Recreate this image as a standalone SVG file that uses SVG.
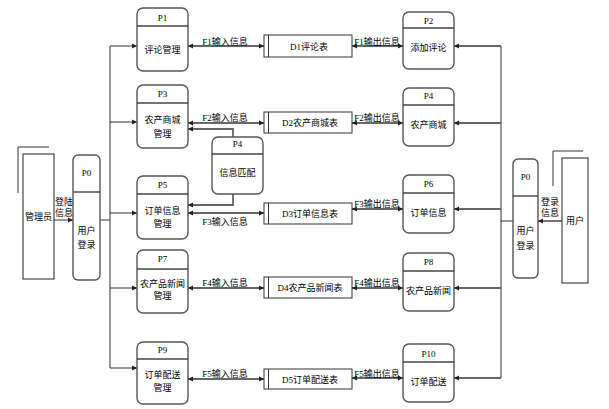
<svg xmlns="http://www.w3.org/2000/svg" width="609" height="409" viewBox="0 0 609 409">
<style>
.proc{fill:#fff;stroke:#555;stroke-width:1.4}
.hdr{stroke:#444;stroke-width:1.4}
.store{fill:#fff;stroke:#333;stroke-width:1}
.ent{fill:#fff;stroke:#222;stroke-width:1}
.t{font-family:"Liberation Serif","Noto Sans CJK SC",serif;font-size:9px;fill:#000;text-anchor:middle}
.flow{stroke:#666;stroke-width:1.8;fill:none}
.ln{stroke:#333;stroke-width:1;fill:none}
</style>
<defs>
<marker id="ae" markerWidth="6" markerHeight="6" refX="5" refY="3" orient="auto" markerUnits="userSpaceOnUse"><path d="M0,0.5 L5,3 L0,5.5 Z" fill="#222"/></marker>
<marker id="as" markerWidth="6" markerHeight="6" refX="0" refY="3" orient="auto" markerUnits="userSpaceOnUse"><path d="M5,0.5 L0,3 L5,5.5 Z" fill="#222"/></marker>
</defs>
<rect width="609" height="409" fill="#fff"/>

<g id="connectors">
<!-- left bus -->
<path class="ln" d="M110 46 V368"/>
<path class="ln" d="M100 220 H110"/>
<path class="ln" d="M110 46 H137" marker-end="url(#ae)"/>
<path class="ln" d="M110 122 H137" marker-end="url(#ae)"/>
<path class="ln" d="M110 213 H137" marker-end="url(#ae)"/>
<path class="ln" d="M110 288 H137" marker-end="url(#ae)"/>
<path class="ln" d="M110 368 H137" marker-end="url(#ae)"/>
<!-- right bus -->
<path class="ln" d="M501 46 V378"/>
<path class="ln" d="M513 221 H501"/>
<path class="flow" d="M501 46 H454" marker-end="url(#ae)"/>
<path class="flow" d="M501 123 H454" marker-end="url(#ae)"/>
<path class="flow" d="M501 209 H454" marker-end="url(#ae)"/>
<path class="flow" d="M501 288 H454" marker-end="url(#ae)"/>
<path class="flow" d="M501 378 H454" marker-end="url(#ae)"/>
<!-- entity arrows -->
<path class="ln" d="M54 220 H73" marker-end="url(#ae)"/>
<path class="flow" d="M562 221 H538" marker-end="url(#ae)"/>
<!-- P4 match -->
<path class="flow" d="M233 137 V129 H188" marker-end="url(#ae)"/>
<path class="flow" d="M233 194 V205 H188" marker-end="url(#ae)"/>
<!-- data flows -->
<path class="flow" d="M188 46 H264" marker-start="url(#as)" marker-end="url(#ae)"/>
<path class="flow" d="M352 46 H403" marker-start="url(#as)" marker-end="url(#ae)"/>
<path class="flow" d="M188 123 H264" marker-start="url(#as)" marker-end="url(#ae)"/>
<path class="flow" d="M352 123 H403" marker-start="url(#as)" marker-end="url(#ae)"/>
<path class="flow" d="M188 213 H264" marker-start="url(#as)" marker-end="url(#ae)"/>
<path class="flow" d="M352 209 H403" marker-start="url(#as)" marker-end="url(#ae)"/>
<path class="flow" d="M188 288 H264" marker-start="url(#as)" marker-end="url(#ae)"/>
<path class="flow" d="M352 288 H403" marker-start="url(#as)" marker-end="url(#ae)"/>
<path class="flow" d="M188 379 H264" marker-start="url(#as)" marker-end="url(#ae)"/>
<path class="flow" d="M352 378 H403" marker-start="url(#as)" marker-end="url(#ae)"/>
<!-- labels -->
<text class="t" x="225" y="45">F1输入信息</text>
<text class="t" x="377" y="45">F1输出信息</text>
<text class="t" x="225" y="121">F2输入信息</text>
<text class="t" x="377" y="121">F2输出信息</text>
<text class="t" x="225" y="225">F3输入信息</text>
<text class="t" x="377" y="207">F3输出信息</text>
<text class="t" x="225" y="286">F4输入信息</text>
<text class="t" x="377" y="286">F4输出信息</text>
<text class="t" x="225" y="377">F5输入信息</text>
<text class="t" x="377" y="377">F5输出信息</text>
<text class="t" x="64" y="205">登陆</text>
<text class="t" x="64" y="216">信息</text>
<text class="t" x="550" y="205">登录</text>
<text class="t" x="550" y="216">信息</text>
</g>

<g id="admin">
<rect class="ent" x="23" y="154" width="31" height="125"/>
<path class="ln" d="M18 193 V147 H49"/>
<text class="t" x="38.5" y="220">管理员</text>
</g>
<g id="user">
<rect class="ent" x="562" y="158" width="26" height="125"/>
<path class="ln" d="M553 186 V151 H583"/>
<text class="t" x="575" y="224">用户</text>
</g>

<g id="P0L">
<rect class="proc" x="73" y="155" width="27" height="125" rx="5"/>
<line class="hdr" x1="73" y1="192" x2="100" y2="192"/>
<text class="t" x="86.5" y="176">P0</text>
<text class="t" x="86.5" y="234">用户</text>
<text class="t" x="86.5" y="248">登录</text>
</g>
<g id="P0R">
<rect class="proc" x="513" y="159" width="25" height="119" rx="5"/>
<line class="hdr" x1="513" y1="196" x2="538" y2="196"/>
<text class="t" x="525.5" y="180">P0</text>
<text class="t" x="525.5" y="234">用户</text>
<text class="t" x="525.5" y="249">登录</text>
</g>

<g id="P1">
<rect class="proc" x="137" y="8" width="51" height="63" rx="6"/>
<line class="hdr" x1="137" y1="26" x2="188" y2="26"/>
<text class="t" x="162.5" y="21">P1</text>
<text class="t" x="162.5" y="53">评论管理</text>
</g>
<g id="P2">
<rect class="proc" x="403" y="12" width="51" height="57" rx="6"/>
<line class="hdr" x1="403" y1="28" x2="454" y2="28"/>
<text class="t" x="428.5" y="24">P2</text>
<text class="t" x="428.5" y="51">添加评论</text>
</g>
<g id="P3">
<rect class="proc" x="137" y="85" width="51" height="63" rx="6"/>
<line class="hdr" x1="137" y1="103" x2="188" y2="103"/>
<text class="t" x="162.5" y="97">P3</text>
<text class="t" x="162.5" y="123">农产商城</text>
<text class="t" x="162.5" y="137">管理</text>
</g>
<g id="P4match">
<rect class="proc" x="212" y="137" width="51" height="57" rx="6"/>
<line class="hdr" x1="212" y1="154" x2="263" y2="154"/>
<text class="t" x="237.5" y="147">P4</text>
<text class="t" x="237.5" y="176">信息匹配</text>
</g>
<g id="P4">
<rect class="proc" x="403" y="88" width="51" height="58" rx="6"/>
<line class="hdr" x1="403" y1="105" x2="454" y2="105"/>
<text class="t" x="428.5" y="99">P4</text>
<text class="t" x="428.5" y="128">农产商城</text>
</g>
<g id="P5">
<rect class="proc" x="137" y="176" width="51" height="63" rx="6"/>
<line class="hdr" x1="137" y1="194" x2="188" y2="194"/>
<text class="t" x="162.5" y="188">P5</text>
<text class="t" x="162.5" y="214">订单信息</text>
<text class="t" x="162.5" y="227">管理</text>
</g>
<g id="P6">
<rect class="proc" x="403" y="175" width="51" height="58" rx="6"/>
<line class="hdr" x1="403" y1="193" x2="454" y2="193"/>
<text class="t" x="428.5" y="187">P6</text>
<text class="t" x="428.5" y="216">订单信息</text>
</g>
<g id="P7">
<rect class="proc" x="137" y="250" width="51" height="63" rx="6"/>
<line class="hdr" x1="137" y1="269" x2="188" y2="269"/>
<text class="t" x="162.5" y="262">P7</text>
<text class="t" x="162.5" y="287">农产品新闻</text>
<text class="t" x="162.5" y="299">管理</text>
</g>
<g id="P8">
<rect class="proc" x="403" y="253" width="51" height="58" rx="6"/>
<line class="hdr" x1="403" y1="271" x2="454" y2="271"/>
<text class="t" x="428.5" y="265">P8</text>
<text class="t" x="428.5" y="294">农产品新闻</text>
</g>
<g id="P9">
<rect class="proc" x="137" y="342" width="51" height="62" rx="6"/>
<line class="hdr" x1="137" y1="359" x2="188" y2="359"/>
<text class="t" x="162.5" y="353">P9</text>
<text class="t" x="162.5" y="378">订单配送</text>
<text class="t" x="162.5" y="391">管理</text>
</g>
<g id="P10">
<rect class="proc" x="403" y="344" width="51" height="58" rx="6"/>
<line class="hdr" x1="403" y1="362" x2="454" y2="362"/>
<text class="t" x="428.5" y="357">P10</text>
<text class="t" x="428.5" y="385">订单配送</text>
</g>

<g id="D1">
<rect class="store" x="264" y="35" width="88" height="22"/>
<line class="ln" x1="268.5" y1="35" x2="268.5" y2="57"/>
<text class="t" x="309" y="49.5">D1评论表</text>
</g>
<g id="D2">
<rect class="store" x="264" y="112" width="88" height="21"/>
<line class="ln" x1="268.5" y1="112" x2="268.5" y2="133"/>
<text class="t" x="310" y="126">D2农产商城表</text>
</g>
<g id="D3">
<rect class="store" x="264" y="203" width="88" height="21"/>
<line class="ln" x1="268.5" y1="203" x2="268.5" y2="224"/>
<text class="t" x="310" y="217">D3订单信息表</text>
</g>
<g id="D4">
<rect class="store" x="264" y="277" width="88" height="21"/>
<line class="ln" x1="268.5" y1="277" x2="268.5" y2="298"/>
<text class="t" x="310" y="291">D4农产品新闻表</text>
</g>
<g id="D5">
<rect class="store" x="264" y="369" width="88" height="20"/>
<line class="ln" x1="268.5" y1="369" x2="268.5" y2="389"/>
<text class="t" x="310" y="382.5">D5订单配送表</text>
</g>
</svg>
